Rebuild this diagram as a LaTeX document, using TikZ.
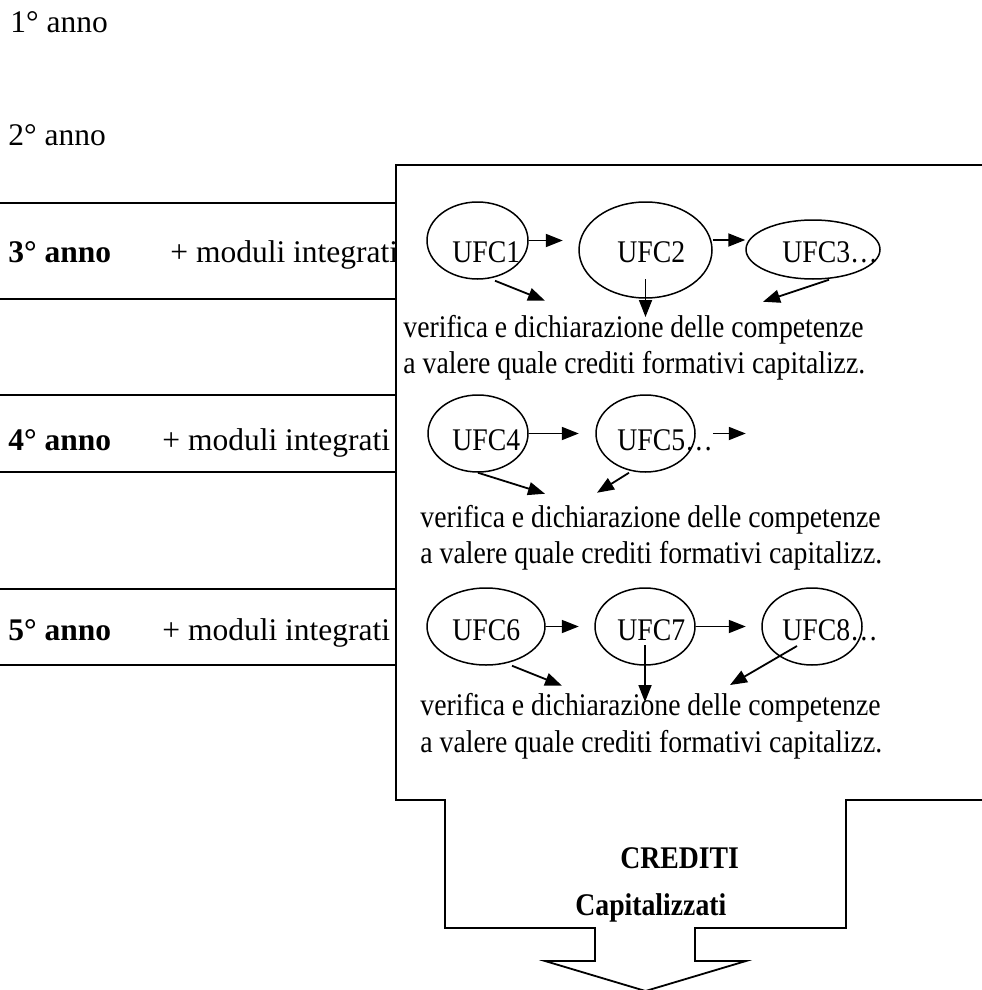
\documentclass[tikz,border=0pt]{standalone}
\usepackage{graphicx}
\usepackage{fontspec}
\setmainfont{Liberation Serif}
\usetikzlibrary{shapes.geometric,arrows.meta,positioning,calc}
\newcommand{\narrowtext}[1]{\scalebox{0.88}[1]{#1}}

\begin{document}
\begin{tikzpicture}[x=0.5pt, y=-0.5pt,
    ufc/.style={ellipse, draw, line width=0.75pt, inner sep=0pt},
    boxtext/.style={anchor=base west, inner sep=0pt, font=\fontsize{15.75}{18}\selectfont},
    yeartext/.style={anchor=base west, inner sep=0pt, font=\fontsize{15.75}{18}\selectfont},
    arr/.style={-{Triangle[length=8.5pt, width=6.5pt]}, line width=0.9pt},
    band/.style={line width=0.75pt}]
    \useasboundingbox (0,0) rectangle (981,990);

    % Years
    \node[yeartext] (anno1) at (10,33) {1° anno};
    \node[yeartext] (anno2) at (8,146) {2° anno};
    \foreach \n/\top/\bot/\base/\mx in {3/203/299/262/170, 4/395/472/450/162, 5/589/665/640/162} {
        \draw[band] (0,\top) -- (395,\top);
        \draw[band] (0,\bot) -- (395,\bot);
        \node[yeartext] (anno\n) at (8,\base) {\textbf{\n° anno}};
        \node[yeartext] (mod\n) at (\mx,\base) {+ moduli integrati};
    }

    % Frame of the units
    \node[draw, fill=white, line width=0.9pt, inner sep=0pt, anchor=north west,
          minimum width=297.5pt, minimum height=317.5pt] (frame) at (395,164) {};

    % UFC ellipses
    \foreach \n/\x/\y/\w/\h in {1/477.5/240.5/50.5/38.5, 2/645.5/250/66.5/48, 3/813/249.5/67/29.5,
                                4/478/433.5/50/38.5, 5/645.5/433.5/49.5/38.5,
                                6/486/626.5/59/38.5, 7/645/626.5/50/38.5, 8/812/626.5/50/38.5} {
        \node[ufc, minimum width=\w pt, minimum height=\h pt] (u\n) at (\x,\y) {};
    }
    \foreach \n/\x/\y/\t in {1/452/262/UFC1, 2/617/262/UFC2, 3/782/262/UFC3…,
                             4/452/450/UFC4, 5/617/450/UFC5…,
                             6/452/640/UFC6, 7/617/640/UFC7, 8/782/640/UFC8…} {
        \node[boxtext] (t\n) at (\x,\y) {\narrowtext{\t}};
    }

    % Verification texts
    \foreach \n/\x/\ya/\yb in {1/403/337/373, 2/420/527/563, 3/420/715/752} {
        \node[boxtext] (ver\n) at (\x,\ya) {\narrowtext{verifica e dichiarazione delle competenze}};
        \node[boxtext] (val\n) at (\x,\yb) {\narrowtext{a valere quale crediti formativi capitalizz.}};
    }

    % Arrows
    \draw[arr] (u1.east) -- ++(34,0);
    \draw[arr] ($(u2.east)+(0,-10)$) -- ($(u3.west)+(0,-9.5)$);
    \draw[arr] ($(u1.south)+(17.5,1)$) -- ++(50,20);
    \draw[arr] ($(u2.center)+(0,29)$) -- ++(0,38);
    \draw[arr] ($(u3.south)+(16,0)$) -- ++(-66,22);

    \draw[arr] (u4.east) -- ++(50,0);
    \draw[arr] ($(u5.east)+(17,0)$) -- ++(33,0);
    \draw[arr] (u4.south) -- ++(67,21);
    \draw[arr] ($(u5.south)+(-16.5,0)$) -- ++(-32,20);

    \draw[arr] (u6.east) -- ++(33,0);
    \draw[arr] (u7.east) -- ++(50,0);
    \draw[arr] ($(u6.south)+(26,0)$) -- ++(50,20);
    \draw[arr] ($(u7.center)+(0,18.5)$) -- ++(0,57);
    \draw[arr] ($(u8.center)+(-15,19.5)$) -- ++(-67,39);

    % Credits arrow
    \draw[line width=0.9pt, fill=white] (445,799) -- (445,928) -- (595,928) -- (595,961) -- (545,961)
        -- (645.5,991) -- (746,961) -- (695,961) -- (695,928) -- (846,928) -- (846,799);
    \node[boxtext, font=\fontsize{15.75}{18}\selectfont\bfseries] (cred) at (620,868) {\narrowtext{CREDITI}};
    \node[boxtext, font=\fontsize{15.75}{18}\selectfont\bfseries] (cap) at (575,915) {\narrowtext{Capitalizzati}};
\end{tikzpicture}
\end{document}
